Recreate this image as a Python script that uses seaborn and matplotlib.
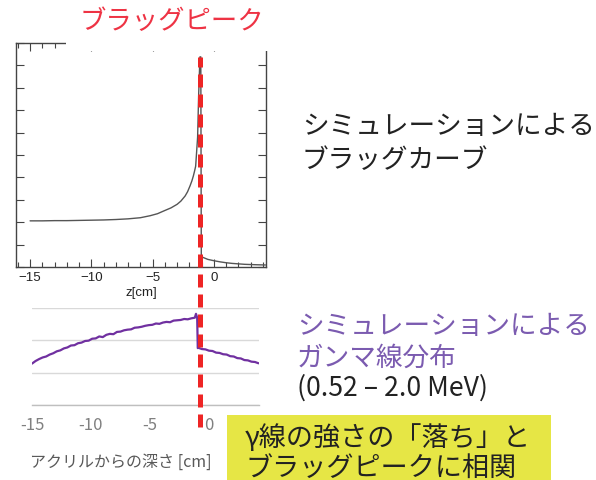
import seaborn as sns
import matplotlib.pyplot as plt
from matplotlib.patches import Rectangle
from matplotlib.ticker import MultipleLocator

# Bragg curve (simulation), arbitrary units 0-10
bragg_z = [-15, -14, -13, -12, -11, -10, -9, -8, -7, -6, -5.2, -4.6, -4.1, -3.5, -3.0,
           -2.7, -2.35, -2.15, -1.95, -1.8, -1.68, -1.58, -1.49, -1.41, -1.33, -1.25,
           -1.14, -1.07, -1.03, -0.5, 0, 0.5, 1, 1.5, 2, 2.5, 3, 3.5, 4.2]
bragg_dose = [2.06, 2.06, 2.07, 2.07, 2.08, 2.09, 2.10, 2.12, 2.15, 2.20, 2.29, 2.38,
              2.50, 2.64, 2.80, 2.94, 3.17, 3.36, 3.62, 3.84, 4.06, 4.28, 4.50, 5.15,
              5.80, 7.60, 9.38, 9.38, 0.46, 0.34, 0.28, 0.23, 0.19, 0.16, 0.14, 0.12,
              0.11, 0.10, 0.09]

# gamma-ray distribution (0.52 - 2.0 MeV), arbitrary units 0-3
gamma_z = [-15.0, -14.7, -14.4, -14.1, -13.8, -13.5, -13.2, -12.9, -12.6, -12.3,
           -12.0, -11.7, -11.4, -11.1, -10.8, -10.5, -10.2, -9.9, -9.6, -9.3, -9.0,
           -8.7, -8.4, -8.1, -7.8, -7.5, -7.2, -6.9, -6.6, -6.3, -6.0, -5.7, -5.4,
           -5.1, -4.8, -4.5, -4.2, -3.9, -3.6, -3.3, -3.0, -2.7, -2.4, -2.1, -1.8,
           -1.5, -1.2, -1.1, -1.0, -0.95, -0.9, -0.6, -0.3, 0.0, 0.3, 0.6, 0.9, 1.2,
           1.5, 1.8, 2.1, 2.4, 2.7, 3.0, 3.3, 3.6, 3.9, 4.2]
gamma_counts = [1.28, 1.36, 1.42, 1.47, 1.50, 1.56, 1.60, 1.66, 1.69, 1.75, 1.78,
                1.84, 1.85, 1.91, 1.93, 1.98, 1.99, 2.05, 2.06, 2.12, 2.10, 2.17,
                2.20, 2.19, 2.26, 2.27, 2.31, 2.33, 2.34, 2.39, 2.40, 2.42, 2.45,
                2.47, 2.48, 2.52, 2.51, 2.55, 2.57, 2.56, 2.61, 2.62, 2.63, 2.66,
                2.65, 2.68, 2.70, 2.82, 2.70, 1.76, 1.77, 1.73, 1.72, 1.68, 1.67,
                1.62, 1.61, 1.57, 1.56, 1.51, 1.50, 1.45, 1.44, 1.39, 1.38, 1.34,
                1.33, 1.29]

top_ticks = [-15, -10, -5, 0]
bottom_ticks = [-15, -10, -5, 0]
bottom_ticklabels = ["-15", "-10", "-5", "0"]
peak_z = -1.15

sns.set_theme(style="white")
plt.rcParams['font.family'] = ['Noto Sans CJK JP', 'DejaVu Sans']

W, H = 596, 481
fig = plt.figure(figsize=(W / 100, H / 100), dpi=100)


def box(x0, y0, x1, y1):
    return [x0 / W, 1 - y1 / H, (x1 - x0) / W, (y1 - y0) / H]


# --- top: Bragg curve ---
ax1 = fig.add_axes(box(16, 44, 266, 268))
sns.lineplot(x=bragg_z, y=bragg_dose, ax=ax1, color="#555555", lw=1)
ax1.set_xlim(-16.15, 4.25)
ax1.set_ylim(0, 10)
ax1.set_xticks(top_ticks)
ax1.xaxis.set_minor_locator(MultipleLocator(1))
ax1.set_yticks(range(0, 11))
ax1.set_yticklabels([])
ax1.tick_params(which="both", direction="in", top=True, right=True, left=True,
                bottom=True, color="#444444", width=0.8)
ax1.tick_params(which="major", length=6)
ax1.tick_params(which="minor", length=3.5)
ax1.tick_params(axis="x", labelsize=9.5, pad=3, labelcolor="#222222",
                labelfontfamily="Liberation Sans")
ax1.set_xlabel("z[cm]", fontsize=9.5, family="Liberation Sans", color="#222222",
               labelpad=2)
for s in ax1.spines.values():
    s.set_color("#444444")
    s.set_linewidth(1)
ax1.set_zorder(3)
ax1.axvline(peak_z, ymin=-0.714, ymax=0.9375, clip_on=False, color="#ee2525",
            lw=3.6, dashes=(2.6, 1.4), zorder=10)

# --- bottom: gamma distribution ---
ax2 = fig.add_axes(box(32, 309, 259, 406))
sns.lineplot(x=gamma_z, y=gamma_counts, ax=ax2, color="#7030A0", lw=1.6)
ax2.set_xlim(-15, 4.24)
ax2.set_ylim(0, 3)
ax2.set_yticks([0, 1, 2, 3])
ax2.set_yticklabels([])
ax2.set_xticks(bottom_ticks)
ax2.set_xticklabels(bottom_ticklabels)
ax2.grid(axis="y", color="#d9d9d9", lw=1)
ax2.tick_params(axis="x", length=0, labelsize=12, labelcolor="#808080", pad=8)
ax2.tick_params(axis="y", length=0)
for k in ["top", "left", "right"]:
    ax2.spines[k].set_visible(False)
ax2.spines["bottom"].set_color("#bfbfbf")
ax2.spines["bottom"].set_linewidth(1)
ax2.patch.set_alpha(0)
ax2.set_xlabel("アクリルからの深さ [cm]", fontsize=11.5, color="#595959")
ax2.xaxis.set_label_coords(0.392, -0.49)

# hide part of the top frame under the title
fig.add_artist(Rectangle((66 / W, 1 - 52 / H), 210 / W, 22 / H, transform=fig.transFigure,
                         facecolor="white", edgecolor="none", zorder=5))

fig.text(172 / W, 1 - 22 / H, "ブラッグピーク", color="#ee3344", fontsize=19,
         ha="center", va="center", zorder=6)

fig.text(302 / W, 1 - 127 / H, "シミュレーションによる", fontsize=19.2, color="#222222",
         ha="left", va="center")
fig.text(302 / W, 1 - 160 / H, "ブラッグカーブ", fontsize=19.2, color="#222222",
         ha="left", va="center")

fig.text(297 / W, 1 - 327 / H, "シミュレーションによる", fontsize=19.2, color="#7b5bb0",
         ha="left", va="center")
fig.text(297 / W, 1 - 358 / H, "ガンマ線分布", fontsize=19.2, color="#7b5bb0",
         ha="left", va="center")
fig.text(297 / W, 1 - 388 / H, "(0.52 – 2.0 MeV)", fontsize=19.2, color="#222222",
         ha="left", va="center")

fig.add_artist(Rectangle((227 / W, 0), 324 / W, 65 / H, transform=fig.transFigure,
                         facecolor="#e6e645", edgecolor="none", zorder=1))
fig.text(245 / W, 1 - 438 / H, "γ線の強さの「落ち」と", fontsize=19.5, color="#222222",
         ha="left", va="center", zorder=2)
fig.text(245 / W, 1 - 468 / H, "ブラッグピークに相関", fontsize=19.5, color="#222222",
         ha="left", va="center", zorder=2)

fig.savefig("out.png", dpi=100)
